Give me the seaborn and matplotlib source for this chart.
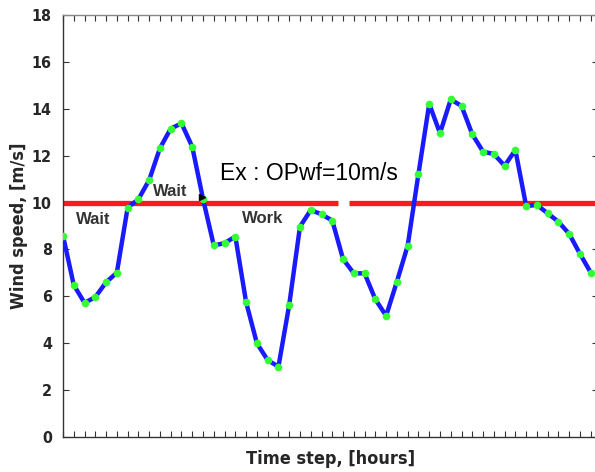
''' Wind speed time series with operating threshold '''
import numpy as np
import pandas as pd
import seaborn as sns
import matplotlib.pyplot as plt

# Data
time_step = list(range(1, 51))
wind_speed = [8.59, 6.48, 5.72, 5.97, 6.60, 7.01, 9.78, 10.14, 10.96, 12.32,
              13.15, 13.38, 12.38, 10.15, 8.17, 8.27, 8.55, 5.75, 4.00, 3.28,
              3.00, 5.63, 8.97, 9.68, 9.50, 9.23, 7.59, 6.98, 6.98, 5.87,
              5.17, 6.63, 8.16, 11.22, 14.21, 12.96, 14.40, 14.12, 12.91, 12.17,
              12.07, 11.57, 12.24, 9.85, 9.90, 9.54, 9.18, 8.66, 7.81, 7.01]
threshold = 10
line_gap = [26.55, 27.55]  # white break in the threshold line
y_ticks = list(range(0, 19, 2))

labels = ["Wait", "Wait", "Work"]
label_x = [3.83, 10.93, 19.52]
label_y = [9.26, 10.49, 9.30]

df = pd.DataFrame({"time": time_step, "speed": wind_speed})

sns.set_style("white")
plt.rcParams['font.family'] = ['Liberation Sans', 'DejaVu Sans']
cond = dict(family='DejaVu Sans', stretch='condensed', fontweight='bold')

fig = plt.figure(figsize=(5.95, 4.72), dpi=100)
ax = fig.add_axes([63 / 595, 1 - 437 / 472, 535 / 595, 422 / 472])

xmin, xmax = 1, 50.67
# threshold line, broken where the text crosses it
ax.hlines(threshold, xmin, line_gap[0], color='#ff1a1a', lw=3.8, zorder=2)
ax.hlines(threshold, line_gap[1], xmax, color='#ff1a1a', lw=3.8, zorder=2)

sns.lineplot(data=df, x='time', y='speed', ax=ax, color='#1a1aff', lw=3.2,
             marker='o', markersize=5.5, markerfacecolor='#33ff33',
             markeredgewidth=0, zorder=3)

# small black pointer at the crossing
ax.plot(time_step[13] - 0.05, wind_speed[13] + 0.1, marker='>', color='black',
        markersize=4, zorder=4)

for t, x, y in zip(labels, label_x, label_y):
    ax.text(x, y, t, ha='center', va='center', fontsize=12,
            fontweight='bold', color='#333333', zorder=5)
ax.text(15.55, 11.26, "Ex : OPwf=10m/s", ha='left', va='center',
        fontsize=16.5, fontweight='medium', color='black', zorder=5)

ax.set_xlim(xmin, xmax)
ax.set_ylim(0, 18)
ax.set_xticks(time_step)
ax.set_xticklabels([])
ax.set_yticks(y_ticks)
ax.set_yticklabels([str(v) for v in y_ticks], fontsize=11.5, **cond)
ax.tick_params(direction='in', length=4, width=0.8, color='#333333',
               top=True, right=True, bottom=True, left=True, pad=8)
for s in ax.spines.values():
    s.set_color('#333333')
    s.set_linewidth(1.0)
ax.spines['top'].set_color('#888888')

ax.set_xlabel("Time step, [hours]", fontsize=13, labelpad=1, **cond)
ax.set_ylabel("Wind speed, [m/s]", fontsize=13, labelpad=3, **cond)

fig.savefig("out.png", dpi=100)
